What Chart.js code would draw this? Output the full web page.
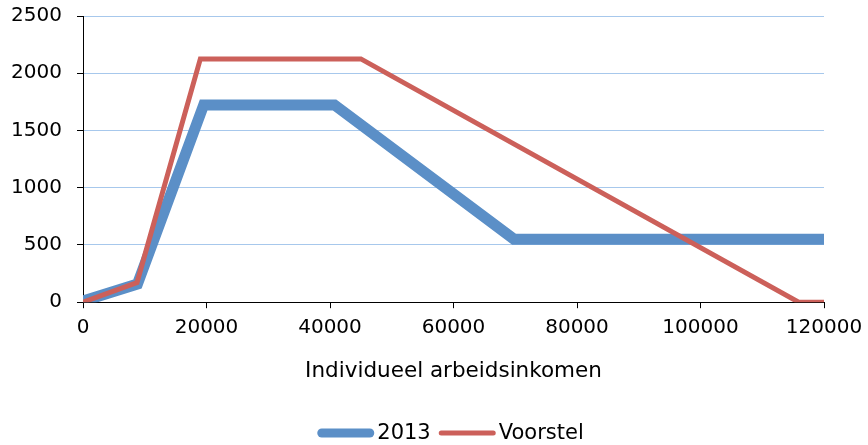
<!DOCTYPE html>
<html>
<head>
<meta charset="utf-8">
<script src="https://cdn.jsdelivr.net/npm/chart.js@4/dist/chart.umd.min.js"></script>
<style>
  html, body { margin: 0; padding: 0; background: #fff; }
  #wrap { width: 868px; height: 445px; }
</style>
</head>
<body>
<div id="wrap"><canvas id="chartCanvas"></canvas></div>
<script>
// Gegevens
const inkomen2013 = [0, 8816, 19545, 40721, 69800, 120000];
const korting2013 = [10, 158, 1723, 1723, 550, 550];
const inkomenVoorstel = [0, 8750, 19000, 45000, 115900, 120000];
const kortingVoorstel = [0, 172, 2125, 2125, 0, 0];
const seriesNamen = ['2013', 'Voorstel'];
const asTitel = 'Individueel arbeidsinkomen';

const kleuren = ['#5b8fc7', '#cc605a'];
const dikte = [11, 5];

function punten(xs, ys) {
    return xs.map((x, i) => ({ x: x, y: ys[i] }));
}

const font = { family: 'DejaVu Sans', size: 20 };
Chart.defaults.color = '#000';

// Eigen legenda onderaan: lijnstukje direct tegen de tekst
const legendaPlugin = {
    id: 'legenda',
    afterDraw(chart) {
        const c = chart.ctx;
        const y = 433;
        c.save();
        c.font = '21px "DejaVu Sans"';
        c.textBaseline = 'middle';
        c.lineCap = 'round';
        const items = chart.data.datasets.map((ds, i) => ({
            tekst: ds.label,
            breedte: c.measureText(ds.label).width,
            kleur: ds.borderColor,
            lijn: i === 0 ? 9 : 5
        }));
        const lijnLengte = 57, gat = 3, tussen = 8;
        let totaal = 0;
        items.forEach((it, i) => { totaal += lijnLengte + gat + it.breedte + (i ? tussen : 0); });
        let x = (chart.chartArea.left + chart.chartArea.right) / 2 - 3 - totaal / 2;
        items.forEach((it, i) => {
            if (i) x += tussen;
            c.strokeStyle = it.kleur;
            c.lineWidth = it.lijn;
            c.beginPath();
            c.moveTo(x + it.lijn / 2, y);
            c.lineTo(x + lijnLengte - it.lijn / 2, y);
            c.stroke();
            x += lijnLengte + gat;
            c.fillStyle = '#000';
            c.fillText(it.tekst, x, y + 1);
            x += it.breedte;
        });
        c.restore();
    }
};

const ctx = document.getElementById('chartCanvas').getContext('2d');
const myChart = new Chart(ctx, {
    type: 'line',
    data: {
        datasets: [{
            label: seriesNamen[0],
            data: punten(inkomen2013, korting2013),
            borderColor: kleuren[0],
            backgroundColor: kleuren[0],
            borderWidth: dikte[0],
            pointRadius: 0,
            tension: 0,
            order: 2
        }, {
            label: seriesNamen[1],
            data: punten(inkomenVoorstel, kortingVoorstel),
            borderColor: kleuren[1],
            backgroundColor: kleuren[1],
            borderWidth: dikte[1],
            pointRadius: 0,
            tension: 0,
            order: 1
        }]
    },
    options: {
        responsive: true,
        maintainAspectRatio: false,
        animation: false,
        layout: { padding: { top: 16, right: 44, left: 0, bottom: 61 } },
        plugins: {
            legend: { display: false },
            tooltip: { enabled: false }
        },
        scales: {
            x: {
                type: 'linear',
                min: 0,
                max: 120000,
                border: { color: '#000', width: 1 },
                grid: { drawOnChartArea: false, drawTicks: true, tickLength: 6, color: '#000' },
                ticks: { stepSize: 20000, font: font, padding: 8, maxRotation: 0, callback: (v) => String(v) },
                title: {
                    display: true, text: asTitel,
                    font: { family: 'DejaVu Sans', size: 21.5 },
                    padding: { top: 10, bottom: 0 }
                },
                afterFit: (scale) => { scale.paddingLeft = 0; scale.paddingRight = 0; }
            },
            y: {
                min: 0,
                max: 2500,
                border: { color: '#000', width: 1 },
                grid: { color: '#a7c8ec', tickColor: '#000', tickLength: 6 },
                ticks: { stepSize: 500, font: font, padding: 15, callback: (v) => String(v) },
                afterFit: (scale) => { scale.width = 83; scale.paddingTop = 0; scale.paddingBottom = 0; }
            }
        }
    },
    plugins: [legendaPlugin]
});
</script>
</body>
</html>
